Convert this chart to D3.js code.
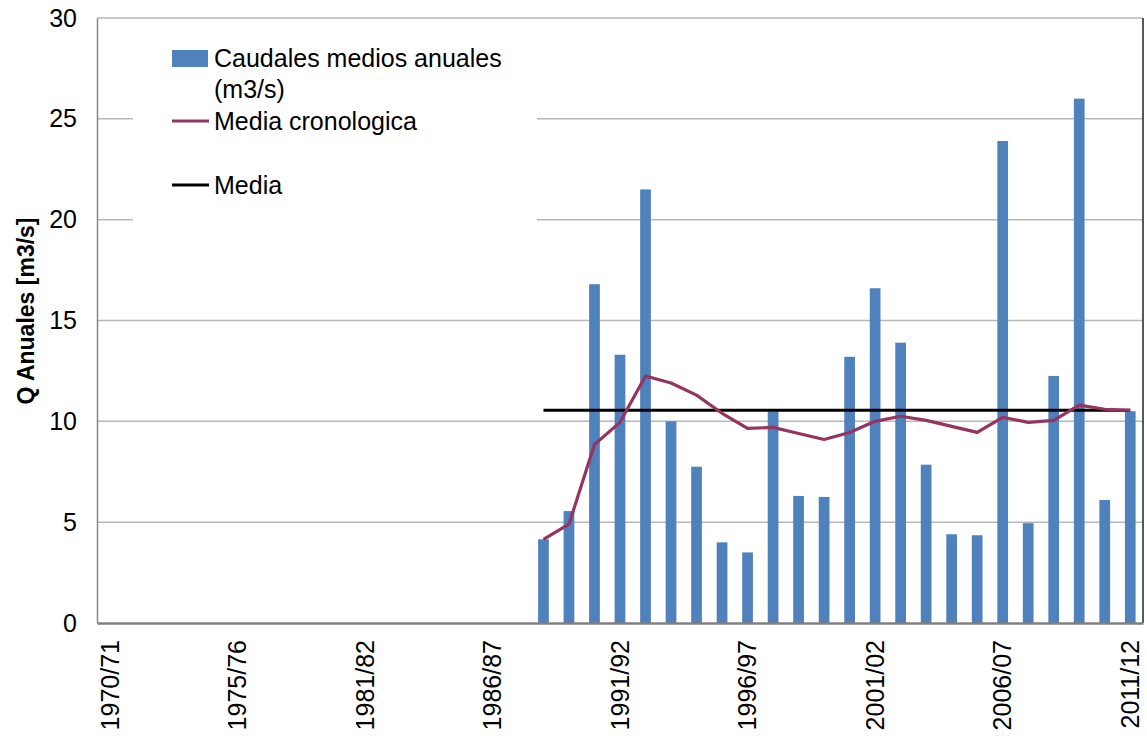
<!DOCTYPE html>
<html>
<head>
<meta charset="utf-8">
<script src="https://cdn.jsdelivr.net/npm/d3@7"></script>
<style>
  body { margin: 0; background: #fff; }
  text { font-family: Arial, "Liberation Sans", sans-serif; fill: #000; }
</style>
</head>
<body>
<svg id="chart"></svg>
<script>
// Hydrological years on the x axis (one year is missing between 1975/76 and 1981/82)
const categories = [
  "1970/71", "1971/72", "1972/73", "1973/74", "1974/75", "1975/76",
  "1977/78", "1978/79", "1979/80", "1980/81", "1981/82", "1982/83",
  "1983/84", "1984/85", "1985/86", "1986/87", "1987/88", "1988/89",
  "1989/90", "1990/91", "1991/92", "1992/93", "1993/94", "1994/95",
  "1995/96", "1996/97", "1997/98", "1998/99", "1999/00", "2000/01",
  "2001/02", "2002/03", "2003/04", "2004/05", "2005/06", "2006/07",
  "2007/08", "2008/09", "2009/10", "2010/11", "2011/12"
];

// years that have data
const dataYears = [
  "1988/89", "1989/90", "1990/91", "1991/92", "1992/93", "1993/94",
  "1994/95", "1995/96", "1996/97", "1997/98", "1998/99", "1999/00",
  "2000/01", "2001/02", "2002/03", "2003/04", "2004/05", "2005/06",
  "2006/07", "2007/08", "2008/09", "2009/10", "2010/11", "2011/12"
];

// Caudales medios anuales (m3/s)
const caudales = [
  4.15, 5.55, 16.8, 13.3, 21.5, 10.0, 7.75, 4.0, 3.5, 10.5, 6.3, 6.25,
  13.2, 16.6, 13.9, 7.85, 4.4, 4.35, 23.9, 4.95, 12.25, 26.0, 6.1, 10.5
];

// Media cronologica
const mediaCrono = [
  4.15, 4.9, 8.85, 9.95, 12.25, 11.9, 11.3, 10.4, 9.65, 9.7, 9.4, 9.1,
  9.45, 10.0, 10.25, 10.05, 9.75, 9.45, 10.2, 9.95, 10.05, 10.8, 10.6, 10.55
];

// Media
const media = 10.55;

const yTicks = [0, 5, 10, 15, 20, 25, 30];
const labelEvery = 5;

const width = 1147, height = 736;
const margin = { top: 18, right: 4, bottom: 113, left: 97 };
const fontSize = "25px";

const svg = d3.select("#chart")
  .attr("width", width)
  .attr("height", height);

const x = d3.scaleBand()
  .domain(categories)
  .range([margin.left, width - margin.right])
  .padding(0);

const y = d3.scaleLinear()
  .domain([0, 30])
  .range([height - margin.bottom, margin.top]);

const barW = x.bandwidth() * 0.42;
const cx = d => x(d) + x.bandwidth() / 2;

// gridlines
svg.append("g")
  .selectAll("line")
  .data(yTicks.slice(1))
  .join("line")
  .attr("x1", margin.left)
  .attr("x2", width - margin.right)
  .attr("y1", d => y(d))
  .attr("y2", d => y(d))
  .attr("stroke", "#b8b8b8")
  .attr("stroke-width", 1.5);

// right border
svg.append("line")
  .attr("x1", width - margin.right).attr("x2", width - margin.right)
  .attr("y1", margin.top).attr("y2", y(0))
  .attr("stroke", "#222").attr("stroke-width", 1.5);

// y axis
const yAxis = svg.append("g")
  .attr("transform", `translate(${margin.left},0)`)
  .call(d3.axisLeft(y).tickValues(yTicks).tickSize(0).tickPadding(20));
yAxis.select(".domain").attr("stroke", "#888").attr("stroke-width", 1.5);
yAxis.selectAll("text").style("font-size", fontSize)
  .style("font-family", "Arial, 'Liberation Sans', sans-serif");

// legend background (hides grid behind legend)
svg.append("rect")
  .attr("x", 133).attr("y", 30)
  .attr("width", 404).attr("height", 198)
  .attr("fill", "#fff");

// bars
svg.append("g")
  .selectAll("rect")
  .data(dataYears.map((d, i) => ({ year: d, v: caudales[i] })))
  .join("rect")
  .attr("x", d => cx(d.year) - barW / 2)
  .attr("width", barW)
  .attr("y", d => y(d.v))
  .attr("height", d => y(0) - y(d.v))
  .attr("fill", "#4f81bd");

// x axis
const xAxis = svg.append("g")
  .attr("transform", `translate(0,${y(0)})`)
  .call(d3.axisBottom(x)
    .tickValues(categories.filter((d, i) => i % labelEvery === 0))
    .tickSize(0));
xAxis.select(".domain").attr("stroke", "#808080").attr("stroke-width", 2.5);
xAxis.selectAll("text")
  .style("font-size", fontSize)
  .style("font-family", "Arial, 'Liberation Sans', sans-serif")
  .attr("transform", "rotate(-90)")
  .attr("text-anchor", "end")
  .attr("x", -17)
  .attr("y", 0)
  .attr("dy", "0.35em");

// media line
svg.append("line")
  .attr("x1", cx(dataYears[0]))
  .attr("x2", cx(dataYears[dataYears.length - 1]))
  .attr("y1", y(media)).attr("y2", y(media))
  .attr("stroke", "#000").attr("stroke-width", 3);

// media cronologica
svg.append("path")
  .datum(mediaCrono)
  .attr("fill", "none")
  .attr("stroke", "#963460")
  .attr("stroke-width", 3.2)
  .attr("stroke-linejoin", "round")
  .attr("d", d3.line()
    .x((d, i) => cx(dataYears[i]))
    .y(d => y(d)));

// y title
svg.append("text")
  .attr("transform", "translate(34,311) rotate(-90)")
  .attr("text-anchor", "middle")
  .style("font-size", "23px")
  .style("font-weight", "bold")
  .text("Q Anuales [m3/s]");

// legend
const lg = svg.append("g");
lg.append("rect").attr("x", 172).attr("y", 50).attr("width", 36).attr("height", 17).attr("fill", "#4f81bd");
lg.append("text").attr("x", 214).attr("y", 67).style("font-size", fontSize).text("Caudales medios anuales");
lg.append("text").attr("x", 214).attr("y", 98).style("font-size", fontSize).text("(m3/s)");
lg.append("line").attr("x1", 172).attr("x2", 209).attr("y1", 121).attr("y2", 121)
  .attr("stroke", "#963460").attr("stroke-width", 3);
lg.append("text").attr("x", 214).attr("y", 130).style("font-size", fontSize).text("Media cronologica");
lg.append("line").attr("x1", 172).attr("x2", 209).attr("y1", 185).attr("y2", 185)
  .attr("stroke", "#000").attr("stroke-width", 3);
lg.append("text").attr("x", 214).attr("y", 194).style("font-size", fontSize).text("Media");
</script>
</body>
</html>
